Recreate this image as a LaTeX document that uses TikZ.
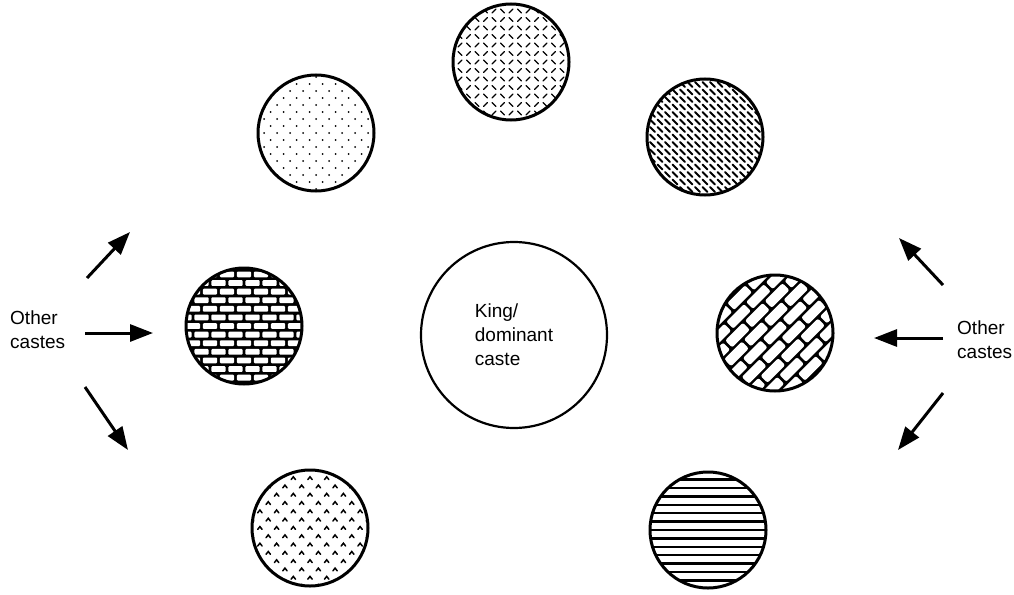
\documentclass[tikz,border=0pt]{standalone}
\usepackage{fontspec}
\setmainfont{Liberation Sans}
\usetikzlibrary{arrows.meta}
\begin{document}
\begin{tikzpicture}[x=1pt,y=-1pt,
  caste/.style={circle, draw, line width=3pt, minimum size=116pt, inner sep=0pt},
  king/.style={circle, draw, line width=2.2pt, minimum size=186pt, inner sep=0pt,
    font=\fontsize{19}{24}\selectfont, align=left},
  lbl/.style={font=\fontsize{19}{24}\selectfont, align=left, inner sep=0pt},
  arr/.style={line width=3pt, -{Triangle[length=23pt,width=17pt]}},
  pat/.style={line width=1.6pt, line cap=round},
]
\useasboundingbox (0,0) rectangle (1014,594);

% ---------- patterns ----------
% top: tread plate
\begin{scope}
\clip (511,62) circle (58);
\foreach \i in {-8,...,8}{\foreach \j in {-8,...,8}{
  \ifodd\numexpr\i+\j+100\relax
    \draw[pat,line width=1.3pt,shift={(511+\i*8.5,62+\j*8.5)}] (-1.8,-1.8) -- (1.8,1.8);
  \else
    \draw[pat,line width=1.3pt,shift={(511+\i*8.5,62+\j*8.5)}] (-1.8,1.8) -- (1.8,-1.8);
  \fi
}}
\end{scope}
% top-left: dots
\begin{scope}
\clip (316,133) circle (58);
\foreach \j in {-9,...,9}{\foreach \i in {-6,...,6}{
  \ifodd\numexpr\j+100\relax
    \fill (316+\i*13+6.5,133+\j*7) circle (1);
  \else
    \fill (316+\i*13,133+\j*7) circle (1);
  \fi
}}
\end{scope}
% top-right: backslash dashes
\begin{scope}
\clip (705,137) circle (58);
\foreach \i in {-9,...,9}{\foreach \j in {-9,...,9}{
  \draw[pat,line width=2pt,shift={(705+\i*7.5,137+\j*7.5)}] (-2.5,-2.5) -- (2.5,2.5);
}}
\end{scope}
% middle-left: horizontal bricks
\begin{scope}
\clip (244,326) circle (58);
\fill (244,326) circle (58);
\foreach \j in {-8,...,8}{\foreach \i in {-5,...,5}{
  \ifodd\numexpr\j+100\relax
    \fill[white,rounded corners=1pt,shift={(244+\i*17+8.5,326+\j*8.6)}] (-7.1,-2.9) rectangle (7.1,2.9);
  \else
    \fill[white,rounded corners=1pt,shift={(244+\i*17,326+\j*8.6)}] (-7.1,-2.9) rectangle (7.1,2.9);
  \fi
}}
\end{scope}
% middle-right: diagonal bricks
\begin{scope}
\clip (775,333) circle (58);
\fill (775,333) circle (58);
\begin{scope}[shift={(775,333)},rotate=45]
\foreach \j in {-6,...,6}{\foreach \i in {-4,...,4}{
  \ifodd\numexpr\j+100\relax
    \fill[white,rounded corners=2pt] (\i*28+14-12.5,\j*12.5-4.9) rectangle (\i*28+14+12.5,\j*12.5+4.9);
  \else
    \fill[white,rounded corners=2pt] (\i*28-12.5,\j*12.5-4.9) rectangle (\i*28+12.5,\j*12.5+4.9);
  \fi
}}
\end{scope}
\end{scope}
% bottom-left: chevrons
\begin{scope}
\clip (310,528) circle (58);
\foreach \j in {-8,...,8}{\foreach \i in {-4,...,4}{
  \ifodd\numexpr\j+100\relax
    \draw[pat,line width=1.5pt,shift={(310+\i*16.7+8.35,528+\j*8.3)}] (-2.2,1.4) -- (0,-1.4) -- (2.2,1.4);
  \else
    \draw[pat,line width=1.5pt,shift={(310+\i*16.7,528+\j*8.3)}] (-2.2,1.4) -- (0,-1.4) -- (2.2,1.4);
  \fi
}}
\end{scope}
% bottom-right: horizontal lines
\begin{scope}
\clip (708,530) circle (58);
\foreach \j in {-7,...,7}{
  \draw[line width=2.4pt] (640,530+\j*8.4) -- (776,530+\j*8.4);
}
\end{scope}

% ---------- circles ----------
\node[caste] (c1) at (511,62) {};
\node[caste] (c2) at (316,133) {};
\node[caste] (c3) at (705,137) {};
\node[caste] (c4) at (244,326) {};
\node[caste] (c5) at (775,333) {};
\node[caste] (c6) at (310,528) {};
\node[caste] (c7) at (708,530) {};
\node[king] (k) at (514,335) {King/\\dominant\\caste};

% ---------- labels ----------
\node[lbl, anchor=west] (L) at (10,330) {Other\\castes};
\node[lbl, anchor=west] (R) at (957,340) {Other\\castes};

% ---------- arrows ----------
\coordinate (la1) at (87,278);  \coordinate (lb1) at (130,232);
\coordinate (la2) at (85,333);  \coordinate (lb2) at (153,333);
\coordinate (la3) at (85,387);  \coordinate (lb3) at (128,450);
\coordinate (ra1) at (943,285); \coordinate (rb1) at (899,238);
\coordinate (ra2) at (943,338); \coordinate (rb2) at (874,338);
\coordinate (ra3) at (943,393); \coordinate (rb3) at (898,450);
\draw[arr] (la1) -- (lb1);
\draw[arr] (la2) -- (lb2);
\draw[arr] (la3) -- (lb3);
\draw[arr] (ra1) -- (rb1);
\draw[arr] (ra2) -- (rb2);
\draw[arr] (ra3) -- (rb3);
\end{tikzpicture}
\end{document}
